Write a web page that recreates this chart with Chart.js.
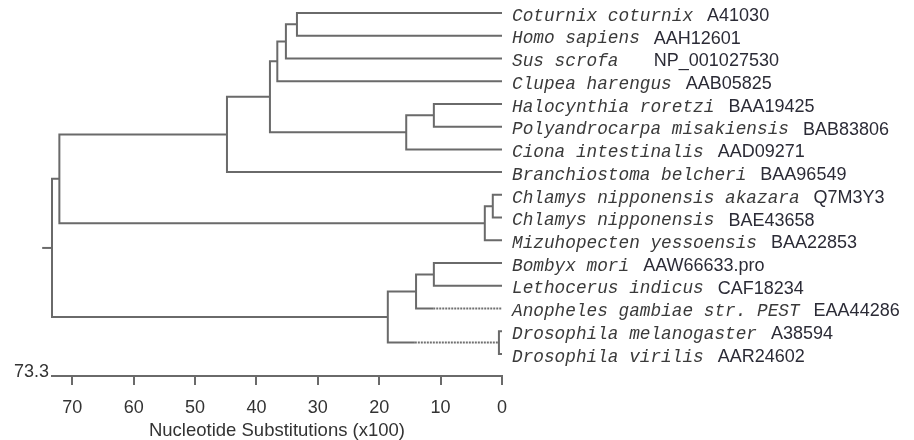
<!DOCTYPE html>
<html>
<head>
<meta charset="utf-8">
<script src="https://cdn.jsdelivr.net/npm/chart.js@4.4.0/dist/chart.umd.min.js"></script>
<style>
  html, body { margin: 0; padding: 0; background: #fff; }
  #wrap { width: 914px; height: 440px; position: relative; }
</style>
</head>
<body>
<div id="wrap"><canvas id="tree"></canvas></div>
<script>
// leaves, top to bottom
const species = ['Coturnix coturnix', 'Homo sapiens', 'Sus scrofa  ', 'Clupea harengus',
  'Halocynthia roretzi', 'Polyandrocarpa misakiensis', 'Ciona intestinalis', 'Branchiostoma belcheri',
  'Chlamys nipponensis akazara', 'Chlamys nipponensis', 'Mizuhopecten yessoensis', 'Bombyx mori',
  'Lethocerus indicus', 'Anopheles gambiae str. PEST', 'Drosophila melanogaster', 'Drosophila virilis'];
const accessions = ['A41030', 'AAH12601', 'NP_001027530', 'AAB05825', 'BAA19425', 'BAB83806',
  'AAD09271', 'BAA96549', 'Q7M3Y3', 'BAE43658', 'BAA22853', 'AAW66633.pro', 'CAF18234',
  'EAA44286', 'A38594', 'AAR24602'];

// internal nodes: node k gets id 16 + k
const nodeChildren = [[0, 1], [16, 2], [17, 3], [4, 5], [19, 6], [18, 20], [21, 7], [8, 9],
  [23, 10], [22, 24], [11, 12], [26, 13], [14, 15], [27, 28], [25, 29]];
const nodeHeights = [33.4, 35.2, 36.6, 11.1, 15.6, 37.8, 44.8, 1.5, 2.8, 72.1, 11.1, 14.0, 0.5, 18.6, 73.3];

// branches that turn dotted below a given height
const dottedBranches = [13, 28];
const dottedFrom = [11.2, 14.2];
const rootStub = 1.6;

const xTicks = [0, 10, 20, 30, 40, 50, 60, 70];
const axisMax = 73.3;
const xTitle = 'Nucleotide Substitutions (x100)';

const nLeaf = species.length;
const heightOf = id => id < nLeaf ? 0 : nodeHeights[id - nLeaf];
const yPos = [];
for (let i = 0; i < nLeaf; i++) yPos[i] = i;
nodeChildren.forEach((c, k) => { yPos[nLeaf + k] = (yPos[c[0]] + yPos[c[1]]) / 2; });

const LINE = '#6a6a6a';
const base = { showLine: true, pointRadius: 0, borderWidth: 2, borderColor: LINE,
  fill: false, tension: 0, clip: false, borderJoinStyle: 'miter' };

const datasets = [];
// where the solid part of a branch stops
function solidEnd(id) {
  const d = dottedBranches.indexOf(id);
  return d >= 0 ? dottedFrom[d] : heightOf(id);
}
nodeChildren.forEach((c, k) => {
  const h = nodeHeights[k];
  const [a, b] = c;
  datasets.push({ ...base, data: [
    { x: solidEnd(a), y: yPos[a] }, { x: h, y: yPos[a] },
    { x: h, y: yPos[b] }, { x: solidEnd(b), y: yPos[b] }
  ] });
});
dottedBranches.forEach((id, d) => {
  datasets.push({ ...base, borderWidth: 2, borderColor: '#707070', borderDash: [2, 1],
    data: [{ x: dottedFrom[d], y: yPos[id] }, { x: heightOf(id), y: yPos[id] }] });
});
const rootId = nLeaf + nodeHeights.length - 1;
datasets.push({ ...base, data: [
  { x: heightOf(rootId), y: yPos[rootId] }, { x: heightOf(rootId) + rootStub, y: yPos[rootId] }
] });

const leafLabels = {
  id: 'leafLabels',
  afterDatasetsDraw(chart) {
    const { ctx, scales: { x, y } } = chart;
    const left = x.getPixelForValue(0) + 10;
    ctx.save();
    ctx.textBaseline = 'middle';
    ctx.textAlign = 'left';
    species.forEach((name, i) => {
      const py = y.getPixelForValue(i) + 3;
      ctx.font = 'italic 17.75px "Liberation Mono", monospace';
      ctx.fillStyle = '#3a3a3a';
      ctx.fillText(name, left, py);
      const w = ctx.measureText(name).width;
      ctx.font = '18px "Liberation Sans", Arial, sans-serif';
      ctx.fillStyle = '#2b2b36';
      ctx.fillText(accessions[i], left + w + 14, py);
    });
    ctx.font = '18px "Liberation Sans", Arial, sans-serif';
    ctx.fillStyle = '#333';
    ctx.textAlign = 'right';
    ctx.textBaseline = 'alphabetic';
    ctx.fillText(String(axisMax), x.left - 3, x.top + 1);
    ctx.restore();
  }
};

new Chart(document.getElementById('tree'), {
  type: 'scatter',
  data: { datasets },
  plugins: [leafLabels],
  options: {
    responsive: true,
    maintainAspectRatio: false,
    animation: false,
    layout: { padding: { left: 52, right: 412, top: 0, bottom: 0 } },
    plugins: { legend: { display: false }, tooltip: { enabled: false } },
    scales: {
      x: {
        type: 'linear', reverse: true, min: 0, max: axisMax,
        afterBuildTicks: s => { s.ticks = xTicks.map(v => ({ value: v })); },
        afterFit: s => { s.height = 64; },
        grid: { drawOnChartArea: false, drawTicks: true, tickLength: 9, color: LINE, lineWidth: 2 },
        border: { display: true, color: LINE, width: 2 },
        ticks: { font: { family: '"Liberation Sans", Arial, sans-serif', size: 18 }, color: '#333',
          padding: 12, maxRotation: 0, autoSkip: false },
        title: { display: true, text: xTitle, color: '#333',
          font: { family: '"Liberation Sans", Arial, sans-serif', size: 18.5 },
          padding: { top: 0, bottom: -2 } }
      },
      y: { type: 'linear', display: false, reverse: true, min: -0.572, max: 15.97 }
    }
  }
});
</script>
</body>
</html>
